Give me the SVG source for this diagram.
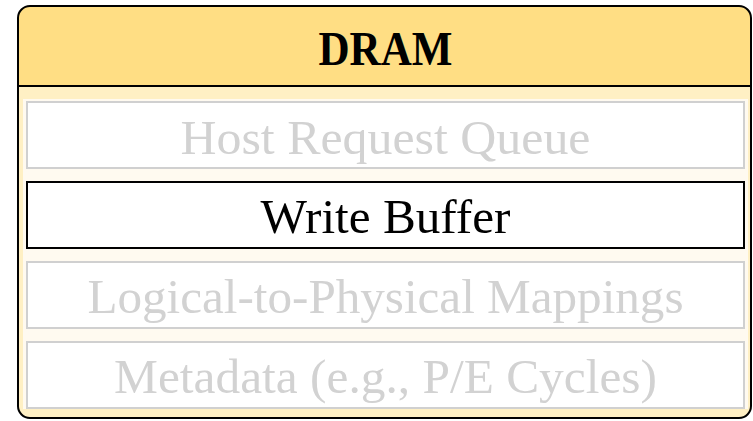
<svg xmlns="http://www.w3.org/2000/svg" width="753" height="421" viewBox="0 0 753 421">
  <style>
    .lbl { font-family: "Liberation Serif", "DejaVu Serif", serif; font-size: 48px; text-anchor: middle; }
    .dim { fill: #d2d2d2; }
    .on { fill: #000000; }
    .slot { fill: #ffffff; stroke-width: 2; }
    .slot-dim { stroke: #d0d0d0; }
    .slot-on { stroke: #000000; }
  </style>
  <rect width="753" height="421" fill="#ffffff"/>

  <g id="dram">
    <!-- body -->
    <path d="M18,86 H751 V406 Q751,418 739,418 H30 Q18,418 18,406 Z" fill="#fff0c4"/>
    <rect x="23" y="99" width="725" height="310" fill="#fffaf0"/>
    <!-- header -->
    <path d="M18,86 V18 Q18,6 30,6 H739 Q751,6 751,18 V86 Z" fill="#ffde84"/>
    <line x1="18" y1="86" x2="751" y2="86" stroke="#000" stroke-width="2"/>
    <rect x="18" y="6" width="733" height="412" rx="12" ry="12" fill="none" stroke="#000" stroke-width="2"/>
    <text class="lbl on" x="385.5" y="65" font-weight="bold" textLength="134" lengthAdjust="spacingAndGlyphs">DRAM</text>
  </g>

  <g id="host-request-queue">
    <rect class="slot slot-dim" x="27" y="102" width="717" height="66"/>
    <text class="lbl dim" x="385.5" y="154" textLength="410" lengthAdjust="spacingAndGlyphs">Host Request Queue</text>
  </g>

  <g id="write-buffer">
    <rect class="slot slot-on" x="27" y="182" width="717" height="66"/>
    <text class="lbl on" x="385.5" y="233" textLength="250" lengthAdjust="spacingAndGlyphs">Write Buffer</text>
  </g>

  <g id="l2p-mappings">
    <rect class="slot slot-dim" x="27" y="262" width="717" height="66"/>
    <text class="lbl dim" x="385.5" y="313" textLength="596" lengthAdjust="spacingAndGlyphs">Logical-to-Physical Mappings</text>
  </g>

  <g id="metadata">
    <rect class="slot slot-dim" x="27" y="342" width="717" height="66"/>
    <text class="lbl dim" x="385.5" y="393" textLength="543" lengthAdjust="spacingAndGlyphs">Metadata (e.g., P/E Cycles)</text>
  </g>

  <g id="connectors"/>
</svg>
